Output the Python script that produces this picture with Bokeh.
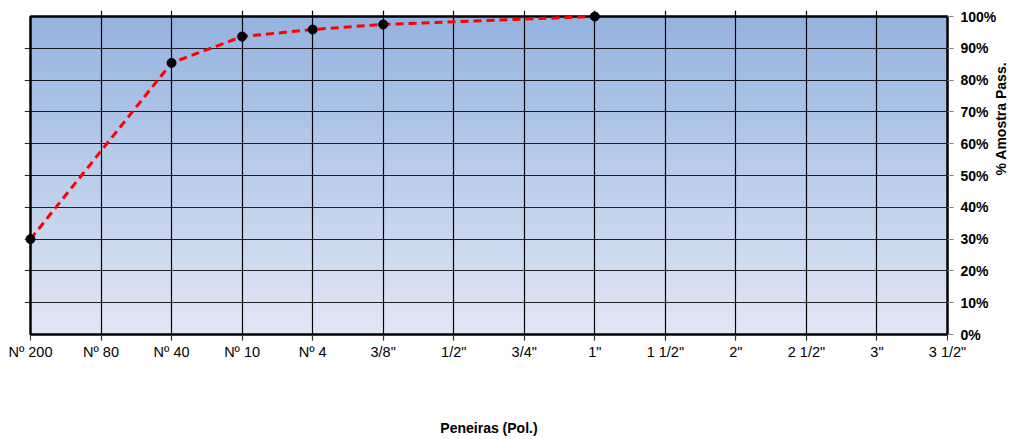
import numpy as np
from bokeh.plotting import figure
from bokeh.models import (Range1d, LinearAxis, FixedTicker, ColumnDataSource,
                          CustomJSTickFormatter, Grid)
from bokeh.embed import file_html
from bokeh.resources import INLINE

categories = ['Nº 200', 'Nº 80', 'Nº 40', 'Nº 10', 'Nº 4', '3/8"', '1/2"', '3/4"',
              '1"', '1 1/2"', '2"', '2 1/2"', '3"', '3 1/2"']
sample_sieves = ['Nº 200', 'Nº 40', 'Nº 10', 'Nº 4', '3/8"', '1"']
passing_pct = [30.0, 85.4, 93.7, 95.9, 97.5, 100.0]
y_ticks = [0, 10, 20, 30, 40, 50, 60, 70, 80, 90, 100]

FONT = "Liberation Sans"

PAD = 6          # px of frame beyond data area so edge markers are not clipped
DATA_W = 917     # px width of data area
DATA_H = 318     # px height of data area
LEFT = 30 - PAD
BOTTOM_PAGE = 334 + PAD
xmax = len(categories) - 1
ymax = 100
px_x = xmax / DATA_W
px_y = ymax / DATA_H

p = figure(width=1020, height=439, output_backend="svg", toolbar_location=None,
           x_range=Range1d(-PAD * px_x, xmax + PAD * px_x),
           y_range=Range1d(-PAD * px_y, ymax + PAD * px_y),
           min_border_left=LEFT, min_border_top=16 - PAD,
           min_border_right=1020 - 947 - PAD, min_border_bottom=439 - BOTTOM_PAGE)
p.yaxis.visible = False
p.xaxis.visible = False
p.xgrid.grid_line_color = None
p.ygrid.grid_line_color = None
p.outline_line_color = None
p.background_fill_color = "white"
p.border_fill_color = "white"

# gradient background
n = 100
edges = np.linspace(0, ymax, n + 1)
top = np.array([0x95, 0xB3, 0xE0])
bot = np.array([0xE1, 0xE7, 0xF5])
cols = []
for i in range(n):
    t = (edges[i] + edges[i + 1]) / (2.0 * ymax)
    c = bot + (top - bot) * t
    cols.append("#%02x%02x%02x" % tuple(int(round(v)) for v in c))
p.quad(left=0, right=xmax, bottom=edges[:-1], top=edges[1:],
       fill_color=cols, line_color=cols, line_width=1.5, level="underlay")

# category axis with title
xax = LinearAxis(ticker=FixedTicker(ticks=list(range(len(categories)))),
                 major_label_overrides={i: c for i, c in enumerate(categories)})
xax.axis_label = "Peneiras (Pol.)"
xax.axis_label_text_font = FONT
xax.axis_label_text_font_style = "bold"
xax.axis_label_text_font_size = "14px"
xax.axis_label_text_color = "black"
xax.axis_label_standoff = 57
xax.major_label_text_font = FONT
xax.major_label_text_font_size = "14.5px"
xax.major_label_text_color = "black"
xax.major_label_standoff = 3
xax.axis_line_color = None
xax.major_tick_in = PAD
xax.major_tick_out = 0
xax.major_tick_line_color = "#333333"
xax.minor_tick_line_color = None
p.add_layout(xax, "below")

# percentage axis on the right with upward-reading title
yax = LinearAxis(ticker=FixedTicker(ticks=y_ticks),
                 formatter=CustomJSTickFormatter(code="return tick.toFixed(0) + '%';"))
yax.axis_label = "% Amostra Pass."
yax.axis_label_text_font = FONT
yax.axis_label_text_font_style = "bold"
yax.axis_label_text_font_size = "14px"
yax.axis_label_text_color = "black"
yax.axis_label_text_align = "center"
yax.axis_label_standoff = 2
yax.axis_label_orientation = np.pi / 2
yax.major_label_text_font = FONT
yax.major_label_text_font_style = "bold"
yax.major_label_text_font_size = "14px"
yax.major_label_text_color = "black"
yax.major_label_standoff = 7
yax.axis_line_color = None
yax.major_tick_in = PAD
yax.major_tick_out = 0
yax.major_tick_line_color = "#888888"
yax.minor_tick_line_color = None
p.add_layout(yax, "right")

# grid lines inside data area
p.add_layout(Grid(dimension=0, ticker=FixedTicker(ticks=list(range(1, xmax))),
                  grid_line_color="black", grid_line_width=1.2,
                  bounds=(0, ymax)))
p.add_layout(Grid(dimension=1, ticker=FixedTicker(ticks=y_ticks[1:-1]),
                  grid_line_color="black", grid_line_width=1.2, grid_line_alpha=0.85,
                  bounds=(0, xmax)))

# frame of data area
p.quad(left=0, right=xmax, bottom=0, top=ymax, fill_color=None,
       line_color="black", line_width=2.5)

xs = [categories.index(s) for s in sample_sieves]
src = ColumnDataSource(dict(x=xs, y=passing_pct))
p.line("x", "y", source=src, line_color="#ff0000", line_width=3, line_dash="8 5")
p.scatter("x", "y", source=src, size=9, fill_color="black", line_color="black")

open("out.html", "w").write(file_html(p, INLINE))
